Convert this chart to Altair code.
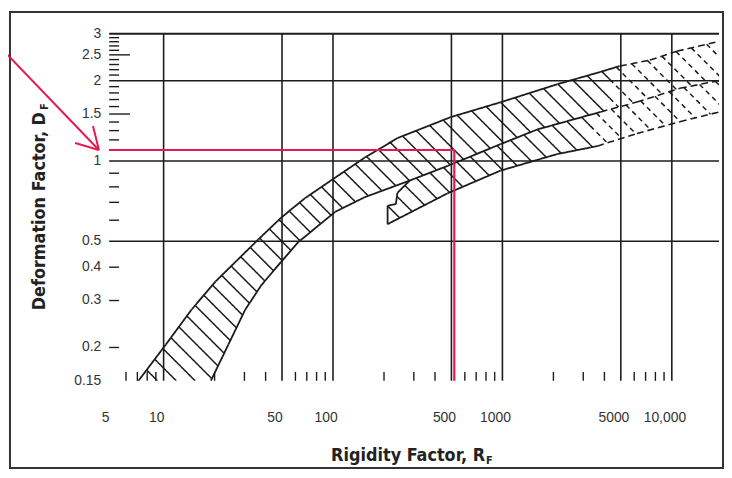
import math
import altair as alt
import pandas as pd

# ---------------- data ----------------
R_DOMAIN = [4.77, 19000]
D_DOMAIN = [0.15, 3.0]

R_LABEL_VALUES = [5, 10, 50, 100, 500, 1000, 5000, 10000]
R_LABEL_TEXT = ["5", "10", "50", "100", "500", "1000", "5000", "10,000"]
R_GRID = [10, 50, 100, 500, 1000, 5000, 10000]
R_MINOR = [6, 7, 8, 9, 20, 30, 40, 60, 70, 80, 90, 200, 300, 400, 600, 700, 800, 900,
           2000, 3000, 4000, 6000, 7000, 8000, 9000]

D_LABEL_VALUES = [0.15, 0.2, 0.3, 0.4, 0.5, 1, 1.5, 2, 2.5, 3]
D_LABEL_TEXT = ["0.15", "0.2", "0.3", "0.4", "0.5", "1", "1.5", "2", "2.5", "3"]
D_GRID = [0.5, 1, 2]
D_MINOR_SHORT = [0.2, 0.3, 0.4, 0.6, 0.7, 0.8, 0.9, 1.1, 1.2, 1.3, 1.4, 1.6, 1.7, 1.8, 1.9,
                 2.1, 2.2, 2.3, 2.4, 2.6, 2.7, 2.8, 2.9]
D_MINOR_LONG = [1.5, 2.5]

# band A (long band from lower left)
A_UPPER_R = [7.1, 10.3, 14.6, 20.2, 26.9, 36.2, 49.4, 68.4, 97.2, 154, 241, 494, 973, 2108,
             3620, 4940, 7430, 10700, 19150, 21000]
A_UPPER_D = [0.15, 0.205, 0.277, 0.353, 0.422, 0.508, 0.613, 0.726, 0.845, 1.03, 1.22, 1.46,
             1.66, 1.94, 2.14, 2.27, 2.39, 2.58, 2.81, 2.86]
A_LOWER_R = [19, 24.1, 30.3, 37.7, 49.4, 62.2, 103, 154, 284, 475, 973, 1607, 3622, 6220,
             11150, 19150, 21000]
A_LOWER_D = [0.15, 0.205, 0.277, 0.342, 0.419, 0.496, 0.645, 0.732, 0.845, 0.959, 1.156,
             1.313, 1.515, 1.663, 1.873, 2.004, 2.03]

# band B (lower band starting near R = 210, upper edge shared with band A)
B_LEFT_R = [210, 210, 235, 240, 284]
B_LEFT_D = [0.58, 0.68, 0.69, 0.76, 0.845]
B_LOWER_R = [210, 475, 973, 2108, 3622, 6220, 11150, 19150, 21000]
B_LOWER_D = [0.58, 0.757, 0.92, 1.062, 1.137, 1.268, 1.404, 1.528, 1.55]

# where solid hatching turns into dashed (extrapolated) hatching
A_UPPER_DASH_FROM = 4900
A_LOWER_DASH_FROM = 3800
B_LOWER_DASH_FROM = 3300
A_HATCH_DASH_FROM = 4300
B_HATCH_DASH_FROM = 3300

# red example reading
RED_R = 520
RED_D = 1.1
ARROW_FROM = (1.2, 2.5)
ARROW_TO = (4.15, 1.1)

# ---------------- layout ----------------
W, H = 615, 350
SX = W / (math.log10(R_DOMAIN[1]) - math.log10(R_DOMAIN[0]))
SY = H / (math.log10(D_DOMAIN[1]) - math.log10(D_DOMAIN[0]))
INK = "#1c1c1c"
RED = "#e8194f"
TICK_FONT = "Liberation Sans, Arial, sans-serif"
TITLE_FONT = "Liberation Sans Narrow, Arial Narrow, DejaVu Sans Condensed, sans-serif"


def P(r):
    return SX * math.log10(r)


def Q(d):
    return SY * math.log10(d)


def hatch(poly_r, poly_d, step, offset, cut_r):
    pts = [(P(r), Q(d)) for r, d in zip(poly_r, poly_d)]
    n = len(pts)
    ks = [p + q for p, q in pts]
    k = math.floor((min(ks) - offset) / step) * step + offset
    pc = P(cut_r)
    out = []
    while k <= max(ks):
        xs = []
        for i in range(n):
            p1, q1 = pts[i]
            p2, q2 = pts[(i + 1) % n]
            f1, f2 = p1 + q1 - k, p2 + q2 - k
            if (f1 < 0) != (f2 < 0):
                t = f1 / (f1 - f2)
                xs.append(p1 + t * (p2 - p1))
        xs.sort()
        for j in range(0, len(xs) - 1, 2):
            a, b = xs[j], xs[j + 1]
            if b <= pc:
                pieces = [(a, b, "solid")]
            elif a >= pc:
                pieces = [(a, b, "dash")]
            else:
                pieces = [(a, pc, "solid"), (pc, b, "dash")]
            for a1, b1, st in pieces:
                out.append(dict(r=10 ** (a1 / SX), d=10 ** ((k - a1) / SY),
                                r2=10 ** (b1 / SX), d2=10 ** ((k - b1) / SY), style=st))
        k += step
    return out


def edge(rs, ds, cut_r):
    out = []
    for i in range(len(rs) - 1):
        r1, d1, r2, d2 = rs[i], ds[i], rs[i + 1], ds[i + 1]
        if r2 <= cut_r:
            out.append(dict(r=r1, d=d1, r2=r2, d2=d2, style="solid"))
        elif r1 >= cut_r:
            out.append(dict(r=r1, d=d1, r2=r2, d2=d2, style="dash"))
        else:
            t = (math.log10(cut_r) - math.log10(r1)) / (math.log10(r2) - math.log10(r1))
            dc = 10 ** (math.log10(d1) + t * (math.log10(d2) - math.log10(d1)))
            out.append(dict(r=r1, d=d1, r2=cut_r, d2=dc, style="solid"))
            out.append(dict(r=cut_r, d=dc, r2=r2, d2=d2, style="dash"))
    return out


polyA_r = A_UPPER_R + A_LOWER_R[::-1]
polyA_d = A_UPPER_D + A_LOWER_D[::-1]
a_shared = [(r, d) for r, d in zip(A_LOWER_R, A_LOWER_D) if r > B_LEFT_R[-1]]
polyB_r = B_LEFT_R + [r for r, _ in a_shared] + B_LOWER_R[1:][::-1]
polyB_d = B_LEFT_D + [d for _, d in a_shared] + B_LOWER_D[1:][::-1]

STEP = 19
hatch_df = pd.DataFrame(hatch(polyA_r, polyA_d, STEP, 0, A_HATCH_DASH_FROM)
                        + hatch(polyB_r, polyB_d, STEP, STEP / 2, B_HATCH_DASH_FROM))

edges_df = pd.DataFrame(
    edge(A_UPPER_R, A_UPPER_D, A_UPPER_DASH_FROM)
    + edge(A_LOWER_R, A_LOWER_D, A_LOWER_DASH_FROM)
    + edge(B_LOWER_R, B_LOWER_D, B_LOWER_DASH_FROM)
    + edge(B_LEFT_R, B_LEFT_D, 1e9)
)
segs = pd.concat([hatch_df.assign(kind="hatch"), edges_df.assign(kind="edge")], ignore_index=True)

# arrow head computed from the arrow's own end points
pt, qt = P(ARROW_TO[0]), Q(ARROW_TO[1])
ps, qs = P(ARROW_FROM[0]), Q(ARROW_FROM[1])
L = math.hypot(ps - pt, qs - qt)
ux, uy = (ps - pt) / L, (qs - qt) / L
arrow_rows = [dict(r=ARROW_FROM[0], d=ARROW_FROM[1], r2=ARROW_TO[0], d2=ARROW_TO[1])]
for ang in (math.radians(30), math.radians(-30)):
    vx = ux * math.cos(ang) - uy * math.sin(ang)
    vy = ux * math.sin(ang) + uy * math.cos(ang)
    arrow_rows.append(dict(r=ARROW_TO[0], d=ARROW_TO[1],
                           r2=10 ** ((pt + 25 * vx) / SX), d2=10 ** ((qt + 25 * vy) / SY)))
arrow_df = pd.DataFrame(arrow_rows)

red_df = pd.DataFrame([
    dict(r=R_DOMAIN[0], d=RED_D, r2=RED_R, d2=RED_D),
    dict(r=RED_R, d=D_DOMAIN[0], r2=RED_R, d2=RED_D),
])

xs = alt.Scale(type="log", domain=R_DOMAIN, nice=False)
ys = alt.Scale(type="log", domain=D_DOMAIN, nice=False)

# invisible layer that carries the axis lines
axis_df = pd.DataFrame({"r": R_DOMAIN, "d": D_DOMAIN})
axes = alt.Chart(axis_df).mark_point(opacity=0).encode(
    x=alt.X("r:Q", scale=xs, axis=alt.Axis(
        values=R_LABEL_VALUES, labels=False, title=None, grid=False, ticks=False,
        domainColor=INK, domainWidth=2)),
    y=alt.Y("d:Q", scale=ys, axis=alt.Axis(
        values=D_LABEL_VALUES, labels=False, title=None, grid=False, ticks=False,
        domainColor=INK, domainWidth=2)),
)

xlabels = alt.Chart(pd.DataFrame({"r": R_LABEL_VALUES, "t": R_LABEL_TEXT})).mark_text(
    font=TICK_FONT, fontSize=14, color="#333", align="center", baseline="middle", dx=-7
).encode(x=alt.X("r:Q", scale=xs, axis=None), y=alt.value(H + 38), text="t:N")
ylabels = alt.Chart(pd.DataFrame({"d": D_LABEL_VALUES, "t": D_LABEL_TEXT})).mark_text(
    font=TICK_FONT, fontSize=14, color="#333", align="right", baseline="middle"
).encode(y=alt.Y("d:Q", scale=ys, axis=None), x=alt.value(-8), text="t:N")

frame = alt.Chart(pd.DataFrame({"a": [0]})).mark_rect(
    fill="transparent", stroke="#333", strokeWidth=2, clip=False
).encode(x=alt.value(-100), x2=alt.value(619), y=alt.value(-22), y2=alt.value(438))

vgrid = alt.Chart(pd.DataFrame({"r": R_GRID})).mark_rule(color=INK, strokeWidth=1.6).encode(
    x=alt.X("r:Q", scale=xs, axis=None))
hgrid = alt.Chart(pd.DataFrame({"d": D_GRID})).mark_rule(color=INK, strokeWidth=1.6).encode(
    y=alt.Y("d:Q", scale=ys, axis=None))
topline = alt.Chart(pd.DataFrame({"d": [D_DOMAIN[1]]})).mark_rule(color=INK, strokeWidth=2).encode(
    y=alt.Y("d:Q", scale=ys, axis=None))

xminor = alt.Chart(pd.DataFrame({"r": R_MINOR})).mark_rule(color=INK, strokeWidth=1.4).encode(
    x=alt.X("r:Q", scale=xs, axis=None), y=alt.value(H), y2=alt.value(H - 9))
yminor = alt.Chart(pd.DataFrame({"d": D_MINOR_SHORT})).mark_rule(color=INK, strokeWidth=1.4).encode(
    y=alt.Y("d:Q", scale=ys, axis=None), x=alt.value(0), x2=alt.value(10))
yminor_long = alt.Chart(pd.DataFrame({"d": D_MINOR_LONG})).mark_rule(color=INK, strokeWidth=1.4).encode(
    y=alt.Y("d:Q", scale=ys, axis=None), x=alt.value(0), x2=alt.value(21))


def seg_layer(df, kind, style, width, dash):
    return alt.Chart(df).transform_filter(
        (alt.datum.kind == kind) & (alt.datum.style == style)
    ).mark_rule(color=INK, strokeWidth=width, strokeDash=dash, clip=True).encode(
        x=alt.X("r:Q", scale=xs, axis=None), y=alt.Y("d:Q", scale=ys, axis=None),
        x2="r2:Q", y2="d2:Q")


hatch_solid = seg_layer(segs, "hatch", "solid", 1.5, [1, 0])
hatch_dash = seg_layer(segs, "hatch", "dash", 1.5, [5, 4])
edge_solid = seg_layer(segs, "edge", "solid", 1.8, [1, 0])
edge_dash = seg_layer(segs, "edge", "dash", 1.6, [7, 4])

red = alt.Chart(red_df).mark_rule(color=RED, strokeWidth=2.2).encode(
    x=alt.X("r:Q", scale=xs, axis=None), y=alt.Y("d:Q", scale=ys, axis=None),
    x2="r2:Q", y2="d2:Q")
arrow = alt.Chart(arrow_df).mark_rule(color=RED, strokeWidth=2, clip=False).encode(
    x=alt.X("r:Q", scale=xs, axis=None), y=alt.Y("d:Q", scale=ys, axis=None),
    x2="r2:Q", y2="d2:Q")

one = pd.DataFrame({"a": [0]})
xtitle = alt.Chart(one).mark_text(
    text="Rigidity Factor, R", font=TITLE_FONT, fontSize=18, fontWeight="bold",
    align="right", baseline="alphabetic", color="#222"
).encode(x=alt.value(379), y=alt.value(431))
xsub = alt.Chart(one).mark_text(
    text="F", font=TITLE_FONT, fontSize=11, fontWeight="bold",
    align="left", baseline="alphabetic", color="#222"
).encode(x=alt.value(380), y=alt.value(434))
ytitle = alt.Chart(one).mark_text(
    text="Deformation Factor, D", font=TITLE_FONT, fontSize=18, fontWeight="bold",
    align="right", baseline="alphabetic", angle=270, color="#222"
).encode(x=alt.value(-65), y=alt.value(79))
ysub = alt.Chart(one).mark_text(
    text="F", font=TITLE_FONT, fontSize=11, fontWeight="bold",
    align="left", baseline="alphabetic", angle=270, color="#222"
).encode(x=alt.value(-62), y=alt.value(77))

chart = alt.layer(
    frame, axes, vgrid, hgrid, topline, xminor, yminor, yminor_long,
    hatch_solid, hatch_dash, edge_solid, edge_dash, red, arrow,
    xlabels, ylabels, xtitle, xsub, ytitle, ysub,
).properties(
    width=W, height=H,
    autosize=alt.AutoSizeParams(type="none"),
    padding={"left": 102, "top": 24, "right": 5, "bottom": 90},
    background="white",
).configure_view(stroke=None)

chart.save("out.html", embed_options={"renderer": "svg", "actions": False})
